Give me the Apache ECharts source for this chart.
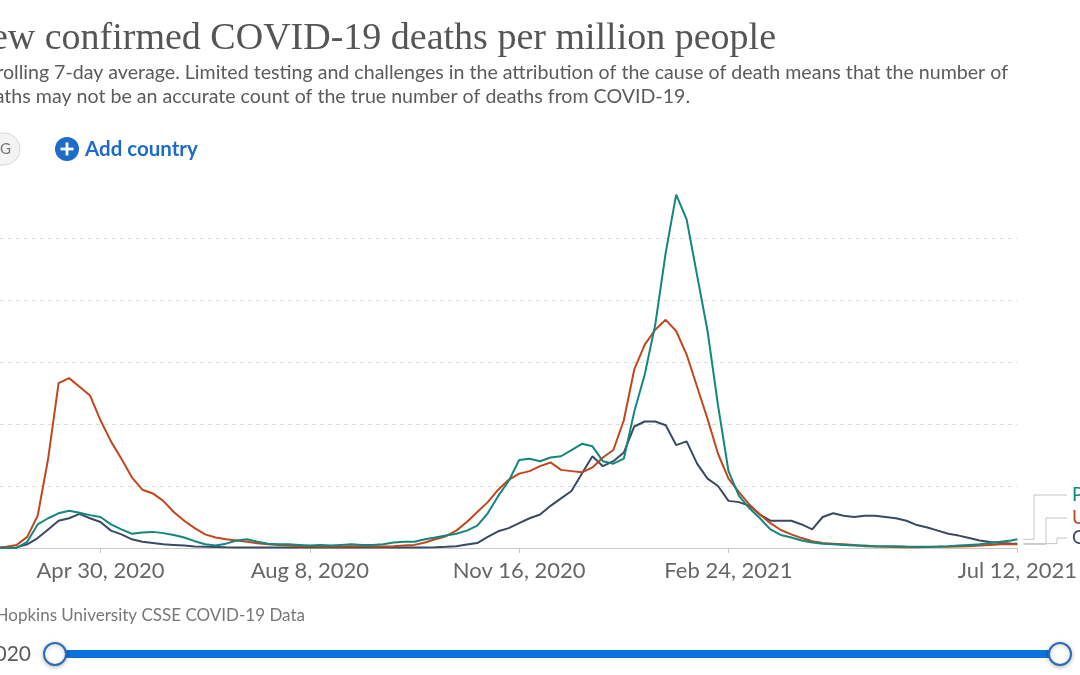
<!DOCTYPE html>
<html>
<head>
<meta charset="utf-8">
<script src="https://cdn.jsdelivr.net/npm/echarts@6/dist/echarts.min.js"></script>
<style>
html,body{margin:0;padding:0;background:#fff;}
#chart{width:1080px;height:675px;}
</style>
</head>
<body>
<div id="chart"></div>
<script>
// ---- data (7-day rolling average, confirmed deaths per million) ----
const dates = [
'2020-03-11','2020-03-16','2020-03-21','2020-03-26','2020-03-31','2020-04-05','2020-04-10','2020-04-15','2020-04-20','2020-04-25',
'2020-04-30','2020-05-05','2020-05-10','2020-05-15','2020-05-20','2020-05-25','2020-05-30','2020-06-04','2020-06-09','2020-06-14',
'2020-06-19','2020-06-24','2020-06-29','2020-07-04','2020-07-09','2020-07-14','2020-07-19','2020-07-24','2020-07-29','2020-08-03',
'2020-08-08','2020-08-13','2020-08-18','2020-08-23','2020-08-28','2020-09-02','2020-09-07','2020-09-12','2020-09-17','2020-09-22',
'2020-09-27','2020-10-02','2020-10-07','2020-10-12','2020-10-17','2020-10-22','2020-10-27','2020-11-01','2020-11-06','2020-11-11',
'2020-11-16','2020-11-21','2020-11-26','2020-12-01','2020-12-06','2020-12-11','2020-12-16','2020-12-21','2020-12-26','2020-12-31',
'2021-01-05','2021-01-10','2021-01-15','2021-01-20','2021-01-25','2021-01-30','2021-02-04','2021-02-09','2021-02-14','2021-02-19',
'2021-02-24','2021-03-01','2021-03-06','2021-03-11','2021-03-16','2021-03-21','2021-03-26','2021-03-31','2021-04-05','2021-04-10',
'2021-04-15','2021-04-20','2021-04-25','2021-04-30','2021-05-05','2021-05-10','2021-05-15','2021-05-20','2021-05-25','2021-05-30',
'2021-06-04','2021-06-09','2021-06-14','2021-06-19','2021-06-24','2021-06-29','2021-07-04','2021-07-09','2021-07-12'
];
const portugal = [
0,0,0.02,0.5,1.9,2.4,2.8,3.0,2.85,2.65,
2.5,1.9,1.5,1.15,1.25,1.3,1.2,1.05,0.85,0.55,
0.3,0.2,0.35,0.6,0.7,0.5,0.35,0.3,0.3,0.25,
0.2,0.25,0.2,0.25,0.3,0.25,0.25,0.3,0.45,0.5,
0.5,0.7,0.85,1.0,1.15,1.4,1.8,2.8,4.2,5.4,
7.1,7.2,7.0,7.3,7.4,7.9,8.4,8.2,7.0,6.8,
7.2,11.0,14.0,18.0,23.8,28.5,26.5,22.0,17.5,11.5,
6.2,4.2,3.2,2.4,1.5,1.05,0.85,0.6,0.45,0.35,
0.3,0.25,0.2,0.2,0.15,0.15,0.15,0.12,0.1,0.1,
0.12,0.15,0.2,0.25,0.3,0.4,0.5,0.6,0.7
];
const unitedKingdom = [
0.02,0.1,0.25,0.9,2.6,7.2,13.3,13.7,13.0,12.3,
10.3,8.6,7.2,5.7,4.7,4.4,3.8,2.9,2.2,1.6,
1.1,0.85,0.7,0.6,0.5,0.38,0.3,0.25,0.2,0.15,
0.15,0.12,0.12,0.12,0.15,0.15,0.12,0.12,0.15,0.2,
0.25,0.45,0.7,0.95,1.4,2.1,2.9,3.7,4.7,5.5,
6.0,6.2,6.6,6.9,6.3,6.2,6.1,6.5,7.3,7.9,
10.3,14.4,16.4,17.6,18.4,17.5,15.6,13.0,10.4,7.6,
5.6,4.5,3.5,2.7,2.0,1.45,1.1,0.8,0.55,0.4,
0.35,0.3,0.25,0.15,0.12,0.1,0.08,0.07,0.07,0.08,
0.1,0.1,0.12,0.15,0.2,0.25,0.3,0.3,0.3
];
const germany = [
0,0.01,0.05,0.3,0.8,1.5,2.2,2.4,2.75,2.4,
2.1,1.4,1.1,0.7,0.5,0.4,0.3,0.25,0.2,0.12,
0.1,0.08,0.06,0.05,0.05,0.05,0.04,0.04,0.04,0.05,
0.05,0.05,0.05,0.05,0.05,0.05,0.05,0.05,0.05,0.05,
0.05,0.05,0.07,0.1,0.15,0.28,0.4,0.9,1.35,1.6,
2.0,2.4,2.7,3.4,4.0,4.6,6.0,7.4,6.6,7.0,
7.7,9.8,10.2,10.2,9.9,8.3,8.6,6.8,5.6,5.0,
3.8,3.7,3.4,2.7,2.2,2.2,2.2,1.9,1.5,2.5,
2.8,2.6,2.5,2.6,2.6,2.5,2.4,2.2,1.85,1.65,
1.4,1.15,1.0,0.8,0.6,0.48,0.4,0.36,0.35
];
const seriesNames = ['Portugal', 'United Kingdom', 'Germany'];
const seriesColors = ['#12877c', '#c0471d', '#3b4a63'];
const tickDates = ['2020-04-30', '2020-08-08', '2020-11-16', '2021-02-24', '2021-07-12'];
const axisStart = '2020-03-13';
const axisEnd = '2021-07-12';
const yTicks = [0, 5, 10, 15, 20, 25, 30];

const titleText = 'Daily new confirmed COVID-19 deaths per million people';
const subtitleLines = [
  'Shown is the rolling 7-day average. Limited testing and challenges in the attribution of the cause of death means that the number of',
  'confirmed deaths may not be an accurate count of the true number of deaths from COVID-19.'
];
const sourceText = 'Source: Johns Hopkins University CSSE COVID-19 Data';
const timelineStart = 'Jan 22, 2020';

// ---- helpers ----
const DAY0 = Date.UTC(2020, 0, 21);
function toDay(s) { const p = s.split('-').map(Number); return (Date.UTC(p[0], p[1] - 1, p[2]) - DAY0) / 86400000; }
const MONTHS = ['Jan','Feb','Mar','Apr','May','Jun','Jul','Aug','Sep','Oct','Nov','Dec'];
function fmt(day) { const d = new Date(DAY0 + Math.round(day) * 86400000); return MONTHS[d.getUTCMonth()] + ' ' + d.getUTCDate() + ', ' + d.getUTCFullYear(); }

const days = dates.map(toDay);
const valueSets = [portugal, unitedKingdom, germany];
const tickDays = tickDates.map(toDay);

const chart = echarts.init(document.getElementById('chart'), null, { renderer: 'canvas' });

const series = seriesNames.map((name, k) => ({
  name: name,
  type: 'line',
  data: days.map((d, i) => [d, valueSets[k][i]]),
  showSymbol: false,
  symbol: 'none',
  smooth: false,
  clip: true,
  lineStyle: { width: 2, color: seriesColors[k] },
  itemStyle: { color: seriesColors[k] },
  z: 5 - k,
  animation: false
}));

const option = {
  animation: false,
  backgroundColor: '#ffffff',
  grid: { left: 0, right: 62, top: 176, bottom: 127, containLabel: false },
  xAxis: {
    type: 'value',
    min: toDay(axisStart),
    max: toDay(axisEnd),
    axisLine: { show: true, lineStyle: { color: '#c8c8c8', width: 1 } },
    axisTick: { show: true, length: 5, customValues: tickDays, lineStyle: { color: '#c8c8c8' } },
    splitLine: { show: false },
    axisLabel: {
      customValues: tickDays,
      formatter: v => fmt(v),
      color: '#666',
      fontFamily: 'Lato',
      fontSize: 22,
      margin: 12
    }
  },
  yAxis: {
    type: 'value',
    min: yTicks[0],
    max: yTicks[yTicks.length - 1],
    interval: 5,
    axisLine: { show: false },
    axisTick: { show: false },
    axisLabel: { show: false },
    splitLine: { show: true, showMinLine: false, showMaxLine: false, lineStyle: { color: '#dcdcdc', type: [4, 4], width: 1 } }
  },
  series: series,
  graphic: []
};
chart.setOption(option);

// ---- annotations: title, controls, labels ----
const g = [];
g.push({ type: 'text', x: 776, y: 39, style: { text: titleText, fill: '#555', font: '38px "Liberation Serif", "DejaVu Serif", serif', textAlign: 'right', textVerticalAlign: 'middle' } });
g.push({ type: 'text', x: 1008, y: 73, style: { text: subtitleLines[0], fill: '#5b5b5b', font: '19.6px Lato, sans-serif', textAlign: 'right', textVerticalAlign: 'middle' } });
g.push({ type: 'text', x: 690, y: 97, style: { text: subtitleLines[1], fill: '#5b5b5b', font: '19.6px Lato, sans-serif', textAlign: 'right', textVerticalAlign: 'middle' } });
// scale chip
g.push({ type: 'rect', shape: { x: -70, y: 133, width: 90, height: 32, r: 16 }, style: { fill: '#f4f4f4', stroke: '#d6d6d6', lineWidth: 1 } });
g.push({ type: 'text', x: 11, y: 149, style: { text: 'LOG', fill: '#777', font: '15px Lato, sans-serif', textAlign: 'right', textVerticalAlign: 'middle' } });
// add country button
g.push({ type: 'circle', shape: { cx: 67, cy: 149, r: 12 }, style: { fill: '#1d6cc8' } });
g.push({ type: 'rect', shape: { x: 60.5, y: 147.6, width: 13, height: 2.8 }, style: { fill: '#fff' } });
g.push({ type: 'rect', shape: { x: 65.6, y: 142.5, width: 2.8, height: 13 }, style: { fill: '#fff' } });
g.push({ type: 'text', x: 85, y: 149, style: { text: 'Add country', fill: '#1d6cc8', font: 'bold 20.5px Lato, sans-serif', textAlign: 'left', textVerticalAlign: 'middle' } });
// source
g.push({ type: 'text', x: 305, y: 616, style: { text: sourceText, fill: '#777', font: '17px Lato, sans-serif', textAlign: 'right', textVerticalAlign: 'middle' } });
// timeline
g.push({ type: 'text', x: 31, y: 654, style: { text: timelineStart, fill: '#5b5b5b', font: '21px Lato, sans-serif', textAlign: 'right', textVerticalAlign: 'middle' } });
g.push({ type: 'rect', shape: { x: 55, y: 650, width: 1005, height: 8 }, style: { fill: '#0a72dc' } });
[55, 1060].forEach(cx => g.push({ type: 'circle', shape: { cx: cx, cy: 654, r: 11 }, style: { fill: '#fff', stroke: '#2a6bb8', lineWidth: 2, shadowBlur: 4, shadowOffsetY: 1, shadowColor: 'rgba(0,0,0,0.25)' } }));

// end labels with elbow connectors
const labelYs = [495, 518, 538];
const elbowXs = [1034, 1046, 1057];
seriesNames.forEach((name, k) => {
  const vals = valueSets[k];
  const end = chart.convertToPixel({ gridIndex: 0 }, [days[days.length - 1], vals[vals.length - 1]]);
  const yEnd = end[1];
  g.push({ type: 'polyline', shape: { points: [[end[0] + 6, yEnd], [elbowXs[k], yEnd], [elbowXs[k], labelYs[k]], [1067, labelYs[k]]] }, style: { stroke: '#c4c4c4', lineWidth: 1, fill: null } });
  g.push({ type: 'text', x: 1072, y: labelYs[k], style: { text: name, fill: seriesColors[k], font: '19px Lato, sans-serif', textAlign: 'left', textVerticalAlign: 'middle' } });
});

chart.setOption({ graphic: g });
</script>
</body>
</html>
